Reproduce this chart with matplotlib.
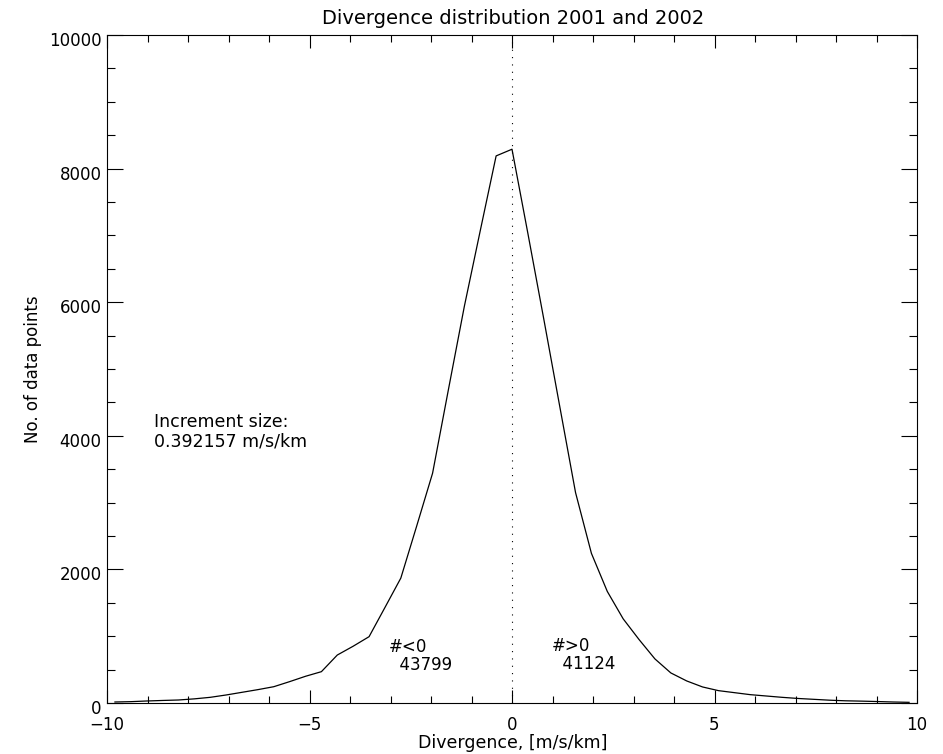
import matplotlib
matplotlib.use("Agg")
import matplotlib.pyplot as plt
import matplotlib.transforms as mtransforms
from matplotlib.ticker import MultipleLocator

# Histogram of divergence values (bin centres, m/s/km) and counts per bin
divergence = [
    -9.804, -9.412, -9.020, -8.627, -8.235, -7.843, -7.451, -7.059, -6.667,
    -6.275, -5.882, -5.490, -5.098, -4.706, -4.314, -3.922, -3.529, -3.137,
    -2.745, -2.353, -1.961, -1.569, -1.176, -0.784, -0.392, 0.000,
    0.392, 0.784, 1.176, 1.569, 1.961, 2.353, 2.745, 3.137, 3.529,
    3.922, 4.314, 4.706, 5.098, 5.490, 5.882, 6.275, 6.667, 7.059,
    7.451, 7.843, 8.235, 8.627, 9.020, 9.412, 9.804,
]
counts = [
    15, 20, 30, 38, 45, 62, 85, 120, 160,
    200, 244, 320, 400, 469, 718, 850, 993, 1430,
    1870, 2650, 3440, 4695, 5940, 7070, 8190, 8290,
    7030, 5750, 4450, 3150, 2240, 1670, 1260, 950, 660,
    450, 330, 240, 185, 155, 125, 105, 85, 68,
    55, 42, 33, 28, 22, 15, 10,
]

x_ticks = [-10, -5, 0, 5, 10]
y_ticks = [0, 2000, 4000, 6000, 8000, 10000]

title = "Divergence distribution 2001 and 2002"
x_label = "Divergence, [m/s/km]"
y_label = "No. of data points"
increment = 0.392157
n_negative = 43799
n_positive = 41124

W, H = 943, 754
fig = plt.figure(figsize=(W / 100, H / 100), dpi=100)
fig.patch.set_facecolor("white")
ax = fig.add_axes([107 / W, 51 / H, 810 / W, 668 / H])

ax.plot(divergence, counts, color="black", lw=0.9)
ax.plot([0, 0], [0, 10000], color="black", lw=0.8, linestyle=(0, (1, 5.6)))

ax.set_xlim(-10, 10)
ax.set_ylim(0, 10000)
ax.set_xticks(x_ticks)
ax.set_yticks(y_ticks)
ax.xaxis.set_minor_locator(MultipleLocator(1))
ax.yaxis.set_minor_locator(MultipleLocator(500))

for s in ax.spines.values():
    s.set_linewidth(0.8)

ax.tick_params(which="both", direction="in", top=True, right=True,
               width=0.8, colors="black", labelsize=12)
ax.tick_params(axis="x", which="major", length=9.6, pad=9.5)
ax.tick_params(axis="x", which="minor", length=4.8)
ax.tick_params(axis="y", which="major", length=11.7, pad=4)
ax.tick_params(axis="y", which="minor", length=5.8)

# nudge y tick labels slightly below their ticks
shift = mtransforms.ScaledTranslation(0, -4 / 100, fig.dpi_scale_trans)
for lab in ax.get_yticklabels():
    lab.set_transform(lab.get_transform() + shift)

fig.text(513 / W, 1 - 18 / H, title, ha="center", va="center", fontsize=14)
fig.text(513 / W, 1 - 748 / H, x_label, ha="center", va="baseline", fontsize=12.5)
fig.text(33 / W, 1 - 369 / H, y_label, ha="center", va="center",
         rotation=90, fontsize=12)

ax.text(-8.84, 4341, f"Increment size:\n{increment:g} m/s/km",
        ha="left", va="top", fontsize=12.5, linespacing=1.08)

ax.text(-3.04, 973, f"#<0\n  {n_negative}", ha="left", va="top",
        fontsize=12, linespacing=0.98)
ax.text(0.99, 988, f"#>0\n  {n_positive}", ha="left", va="top",
        fontsize=12, linespacing=0.98)

fig.savefig("out.png", dpi=100, facecolor="white")
